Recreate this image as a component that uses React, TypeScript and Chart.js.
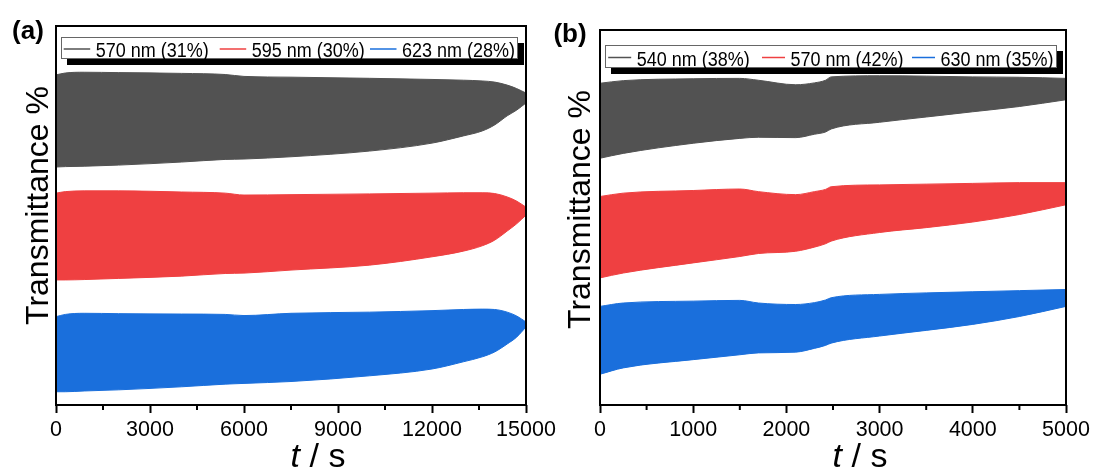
import React, { useEffect, useRef } from 'react';
import { Chart, registerables } from 'chart.js';

Chart.register(...registerables);

// ---------- Panel (a) ----------
const timeA = [0, 300, 900, 2000, 4000, 5400, 6000, 7500, 10000, 12000, 13000, 13600, 14000, 14400, 14700, 15000];
const upper570A = [87.1, 87.6, 87.8, 87.7, 87.5, 87.2, 86.7, 86.5, 86.2, 85.9, 85.7, 85.5, 85.2, 84.4, 83.5, 82.3];
const lower570A = [62.8, 62.9, 63.0, 63.3, 64.1, 64.8, 64.9, 65.5, 67.0, 69.1, 71.0, 72.3, 73.9, 76.3, 77.8, 79.7];
const upper595A = [55.9, 56.3, 56.5, 56.5, 56.2, 55.9, 55.4, 55.5, 55.7, 55.9, 56.0, 56.0, 55.8, 54.9, 53.8, 52.2];
const lower595A = [33.0, 33.0, 33.1, 33.4, 34.0, 34.7, 34.8, 35.6, 36.9, 39.1, 40.6, 42.0, 43.5, 45.9, 47.8, 50.1];
const upper623A = [23.3, 23.9, 24.2, 24.1, 24.0, 23.9, 23.6, 24.2, 24.5, 24.9, 25.2, 25.3, 25.2, 24.5, 23.5, 21.9];
const lower623A = [3.5, 3.5, 3.7, 4.0, 4.8, 5.5, 5.7, 6.2, 7.7, 9.5, 11.4, 12.7, 14.0, 16.1, 17.9, 20.6];
const legendA = ['570 nm (31%)', '595 nm (30%)', '623 nm (28%)'];
const majorTicksA = [0, 3000, 6000, 9000, 12000, 15000];
const minorTicksA = [1500, 4500, 7500, 10500, 13500];

// ---------- Panel (b) ----------
const timeB = [0, 250, 1000, 1500, 1700, 2100, 2300, 2420, 2480, 3000, 3500, 4000, 4500, 5000];
const upper540B = [85.8, 86.5, 87.0, 87.1, 86.6, 85.4, 85.9, 86.6, 87.5, 87.8, 87.7, 87.5, 87.4, 87.1];
const lower540B = [65.8, 67.1, 69.8, 71.1, 71.4, 71.3, 72.2, 72.8, 73.6, 75.4, 76.8, 78.2, 79.6, 81.4];
const upper570B = [55.6, 56.5, 57.2, 57.6, 56.9, 56.1, 56.9, 57.5, 58.2, 58.7, 58.9, 59.1, 59.3, 59.3];
const lower570B = [33.9, 35.2, 37.9, 39.6, 40.4, 41.0, 42.1, 43.0, 43.7, 46.0, 47.3, 48.8, 50.8, 53.4];
const upper630B = [26.3, 27.2, 27.7, 27.9, 27.2, 26.8, 27.3, 28.0, 28.6, 29.5, 29.9, 30.2, 30.5, 30.8];
const lower630B = [8.2, 9.9, 12.1, 13.4, 13.9, 14.1, 15.1, 15.9, 16.5, 18.4, 19.9, 21.5, 23.6, 26.3];
const legendB = ['540 nm (38%)', '570 nm (42%)', '630 nm (35%)'];
const majorTicksB = [0, 1000, 2000, 3000, 4000, 5000];
const minorTicksB = [500, 1500, 2500, 3500, 4500];

const colors = ['#525252', '#EF4041', '#1A6FDC'];
const FONT = '"Liberation Sans", Arial, Helvetica, sans-serif';

function pts(t: number[], v: number[]) {
  return t.map((x, i) => ({ x, y: v[i] }));
}

function bandDatasets(time: number[], bands: [number[], number[]][], labels: string[]) {
  const ds: any[] = [];
  bands.forEach(([up, lo], i) => {
    const common = {
      borderColor: colors[i],
      backgroundColor: colors[i],
      borderWidth: 1,
      pointRadius: 0,
      cubicInterpolationMode: 'monotone',
    };
    ds.push({ ...common, label: labels[i], data: pts(time, up), fill: '+1' });
    ds.push({ ...common, label: '', data: pts(time, lo), fill: false });
  });
  return ds;
}

type Panel = {
  tag: string;
  xMax: number;
  major: number[];
  minor: number[];
  datasets: any[];
  padTop: number;
  padRight: number;
  yWidth: number;
  yTitleDx: number;
  yTitleDy: number;
  tagX: number;
  tagY: number;
  legTop: number;
  legH: number;
  legW: number;
  legItemX: number[];
  legLineW: number;
};

function decorPlugin(p: Panel) {
  return {
    id: 'decor',
    afterDraw(chart: any) {
      const { ctx, chartArea: a } = chart;
      const xs = chart.scales.x;
      ctx.save();
      ctx.strokeStyle = '#000';
      ctx.lineWidth = 2;
      // minor ticks
      for (const v of p.minor) {
        const px = xs.getPixelForValue(v);
        ctx.beginPath();
        ctx.moveTo(px, a.bottom);
        ctx.lineTo(px, a.bottom + 5);
        ctx.stroke();
      }
      // frame
      ctx.strokeRect(a.left, a.top, a.right - a.left, a.bottom - a.top);

      ctx.fillStyle = '#000';
      // y title
      ctx.save();
      ctx.font = `32px ${FONT}`;
      ctx.textAlign = 'center';
      ctx.textBaseline = 'alphabetic';
      ctx.translate(a.left + p.yTitleDx, (a.top + a.bottom) / 2 + p.yTitleDy);
      ctx.rotate(-Math.PI / 2);
      ctx.fillText('Transmittance %', 0, 0);
      ctx.restore();

      // x title: italic t / s
      ctx.save();
      ctx.textBaseline = 'alphabetic';
      ctx.textAlign = 'left';
      ctx.font = `italic 34px ${FONT}`;
      const w1 = ctx.measureText('t').width;
      ctx.font = `34px ${FONT}`;
      const w2 = ctx.measureText(' / s').width;
      const cx = (a.left + a.right) / 2 + 27;
      const by = a.bottom + 62;
      const x0 = cx - (w1 + w2) / 2;
      ctx.font = `italic 34px ${FONT}`;
      ctx.fillText('t', x0, by);
      ctx.font = `34px ${FONT}`;
      ctx.fillText(' / s', x0 + w1, by);
      ctx.restore();

      // panel tag
      ctx.save();
      ctx.font = `bold 26px ${FONT}`;
      ctx.textAlign = 'center';
      ctx.textBaseline = 'middle';
      ctx.fillText(p.tag, p.tagX, p.tagY);
      ctx.restore();

      // legend
      const lx = a.left + 5;
      const ly = p.legTop;
      ctx.fillStyle = '#000';
      ctx.fillRect(lx + 6, ly + 6, p.legW, p.legH);
      ctx.fillStyle = '#fff';
      ctx.fillRect(lx, ly, p.legW, p.legH);
      ctx.strokeStyle = '#666';
      ctx.lineWidth = 1;
      ctx.strokeRect(lx + 0.5, ly + 0.5, p.legW - 1, p.legH - 1);
      ctx.font = `20px ${FONT}`;
      ctx.textBaseline = 'alphabetic';
      ctx.textAlign = 'left';
      const baseY = ly + p.legH - 2;
      const midY = ly + p.legH / 2 + 1;
      const items = chart.data.datasets.filter((d: any) => !!d.label);
      items.forEach((d: any, i: number) => {
        const x = lx + p.legItemX[i];
        ctx.strokeStyle = d.borderColor;
        ctx.lineWidth = 1.5;
        ctx.beginPath();
        ctx.moveTo(x, midY);
        ctx.lineTo(x + p.legLineW, midY);
        ctx.stroke();
        ctx.fillStyle = '#000';
        const tx = x + p.legLineW + 5.5;
        const w = ctx.measureText(d.label).width;
        const target = 113;
        ctx.save();
        ctx.translate(tx, baseY);
        ctx.scale(target / w, 1);
        ctx.fillText(d.label, 0, 0);
        ctx.restore();
      });
      ctx.restore();
    },
  };
}

function PanelChart({ p, left, width }: { p: Panel; left: number; width: number }) {
  const ref = useRef<HTMLCanvasElement>(null);
  useEffect(() => {
    if (!ref.current) return;
    const chart = new Chart(ref.current, {
      type: 'line',
      data: { datasets: p.datasets },
      options: {
        responsive: false,
        animation: false,
        layout: { padding: { top: p.padTop, right: p.padRight, left: 0, bottom: 0 } },
        plugins: { legend: { display: false }, tooltip: { enabled: false }, title: { display: false } },
        scales: {
          x: {
            type: 'linear',
            min: 0,
            max: p.xMax,
            afterBuildTicks: (s: any) => {
              s.ticks = p.major.map((v) => ({ value: v }));
            },
            afterFit: (s: any) => {
              s.height = 68;
            },
            grid: {
              display: true,
              drawOnChartArea: false,
              drawTicks: true,
              tickLength: 8,
              tickWidth: 2,
              tickColor: '#000',
            },
            border: { display: false },
            ticks: {
              color: '#000',
              font: { size: 21.5, family: FONT },
              padding: 4,
              maxRotation: 0,
              autoSkip: false,
              callback: (v: any) => String(v),
            },
          },
          y: {
            type: 'linear',
            min: 0,
            max: 100,
            afterFit: (s: any) => {
              s.width = p.yWidth;
            },
            ticks: { display: false },
            grid: { display: false },
            border: { display: false },
          },
        },
      } as any,
      plugins: [decorPlugin(p)],
    });
    return () => chart.destroy();
  }, []);
  return (
    <canvas
      ref={ref}
      width={width}
      height={473}
      style={{ position: 'absolute', left, top: 0, width, height: 473 }}
    />
  );
}

const panelA: Panel = {
  tag: '(a)',
  xMax: 15000,
  major: majorTicksA,
  minor: minorTicksA,
  datasets: bandDatasets(
    timeA,
    [
      [upper570A, lower570A],
      [upper595A, lower595A],
      [upper623A, lower623A],
    ],
    legendA
  ),
  padTop: 26,
  padRight: 74,
  yWidth: 56,
  yTitleDx: -8,
  yTitleDy: -10,
  tagX: 28,
  tagY: 32,
  legTop: 37,
  legH: 22,
  legW: 457,
  legItemX: [2.7, 158.7, 309],
  legLineW: 26.5,
};

const panelB: Panel = {
  tag: '(b)',
  xMax: 5000,
  major: majorTicksB,
  minor: minorTicksB,
  datasets: bandDatasets(
    timeB,
    [
      [upper540B, lower540B],
      [upper570B, lower570B],
      [upper630B, lower630B],
    ],
    legendB
  ),
  padTop: 30,
  padRight: 30,
  yWidth: 55,
  yTitleDx: -10,
  yTitleDy: -8,
  tagX: 25,
  tagY: 35,
  legTop: 45,
  legH: 23,
  legW: 452,
  legItemX: [3.2, 157, 307],
  legLineW: 23,
};

export default function App() {
  return (
    <div style={{ position: 'fixed', left: 0, top: 0, width: 1096, height: 473, background: '#fff' }}>
      <PanelChart p={panelA} left={0} width={600} />
      <PanelChart p={panelB} left={545} width={551} />
    </div>
  );
}
